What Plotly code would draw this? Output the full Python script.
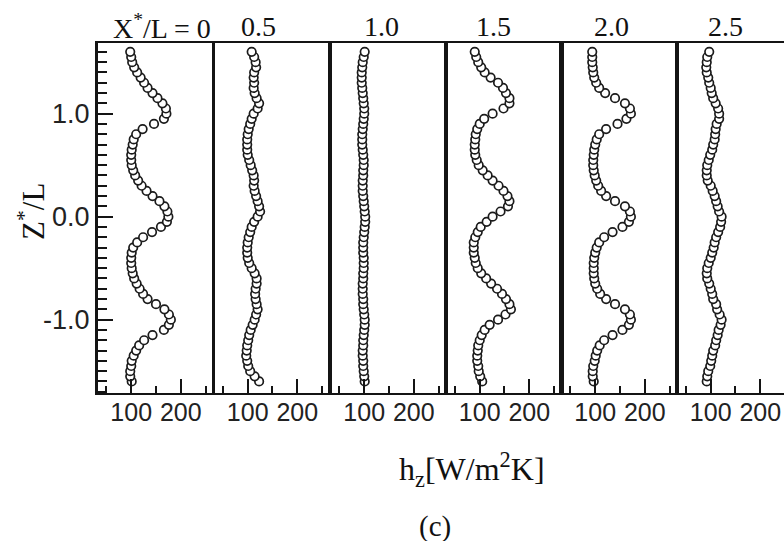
import plotly.graph_objects as go

# Vertical position Z*/L of each sample (same grid for all six stations)
z_over_L = [
    -1.60, -1.55, -1.50, -1.45, -1.40, -1.35, -1.30, -1.25, -1.20, -1.15, -1.10, -1.05, -1.00,
    -0.95, -0.90, -0.85, -0.80, -0.75, -0.70, -0.65, -0.60, -0.55, -0.50, -0.45, -0.40, -0.35,
    -0.30, -0.25, -0.20, -0.15, -0.10, -0.05, 0.00, 0.05, 0.10, 0.15, 0.20, 0.25, 0.30, 0.35,
    0.40, 0.45, 0.50, 0.55, 0.60, 0.65, 0.70, 0.75, 0.80, 0.85, 0.90, 0.95, 1.00, 1.05, 1.10,
    1.15, 1.20, 1.25, 1.30, 1.35, 1.40, 1.45, 1.50, 1.55, 1.60,
]

# Local heat transfer coefficient h_z [W/m^2K] at each streamwise station X*/L
h_x0_0 = [101, 98, 98, 100, 101, 105, 110, 116, 126, 143, 166, 176, 180,
          176, 167, 150, 133, 124, 117, 111, 106, 103, 101, 100, 100, 101, 104, 112, 124, 142, 160, 172,
          175,
          173, 167, 157, 143, 131, 121, 114, 108, 104, 101, 100, 100, 101, 103, 105, 110, 123, 146, 166,
          171, 170, 163, 153, 143, 133, 126, 119, 112, 106, 102, 100, 98]
h_x0_5 = [123, 114, 105, 101, 99, 97, 98, 99, 101, 103, 106, 110, 114,
          117, 120, 118, 116, 115, 116, 118, 118, 114, 108, 103, 100, 99, 99, 100, 102, 105, 108, 113,
          120,
          125, 123, 120, 117, 114, 112, 113, 112, 109, 106, 103, 100, 99, 99, 99, 100, 102, 105, 108,
          112, 120, 123, 118, 114, 112, 113, 112, 113, 117, 116, 113, 108]
h_x1_0 = [101, 100, 99, 98, 98, 97, 97, 98, 98, 99, 100, 101, 101,
          100, 99, 98, 98, 97, 97, 97, 98, 98, 99, 99, 99, 98, 98, 98, 99, 100, 101, 102,
          102,
          101, 100, 99, 98, 97, 97, 97, 98, 98, 99, 99, 98, 97, 96, 96, 96, 97, 98, 99,
          100, 100, 99, 98, 97, 96, 95, 95, 95, 96, 97, 99, 101]
h_x1_5 = [105, 101, 98, 97, 95, 95, 96, 97, 100, 104, 110, 120, 137,
          152, 163, 160, 153, 145, 135, 123, 113, 103, 96, 92, 90, 88, 88, 88, 91, 96, 102, 114,
          126,
          142, 157, 160, 156, 148, 138, 126, 116, 106, 98, 94, 91, 90, 90, 91, 92, 95, 100, 109,
          126, 148, 160, 160, 153, 147, 137, 122, 110, 103, 97, 93, 90]
h_x2_0 = [97, 95, 95, 96, 99, 101, 104, 109, 118, 135, 155, 168, 172,
          170, 160, 140, 122, 110, 104, 100, 98, 97, 97, 97, 98, 100, 103, 108, 118, 135, 155, 168,
          172,
          170, 160, 140, 122, 112, 106, 102, 99, 97, 96, 96, 97, 98, 100, 103, 108, 122, 145, 163,
          172, 170, 160, 140, 120, 108, 102, 98, 96, 95, 94, 94, 94]
h_x2_5 = [92, 93, 95, 99, 101, 103, 105, 109, 111, 114, 116, 120, 122,
          118, 113, 111, 105, 103, 100, 97, 93, 92, 93, 96, 100, 103, 106, 108, 111, 115, 119, 121,
          122,
          117, 114, 111, 108, 104, 100, 94, 92, 92, 93, 96, 99, 103, 105, 108, 109, 110, 112, 117,
          117, 115, 110, 105, 102, 100, 97, 95, 92, 91, 92, 93, 97]

station_labels = ["X<sup>*</sup>/L = 0", "0.5", "1.0", "1.5", "2.0", "2.5"]
major_h_ticks = [100, 200]
major_h_text = ["100", "200"]
minor_h_ticks = [50, 150, 250]
z_ticks = [-1.0, 0.0, 1.0]
z_tick_text = ["-1.0", "0.0", "1.0"]
minor_z_step = 0.1

profiles = [h_x0_0, h_x0_5, h_x1_0, h_x1_5, h_x2_0, h_x2_5]

# ---- page geometry (pixels) ----
W, H = 784, 541
ML, MT, MB, MR = 98, 43, 148, 0
PW = W - ML - MR
PH = H - MT - MB
panel_left = [98, 214.5, 331, 446.5, 562, 677.5]
panel_width = 114.0
h_lo, h_span = 33.0, 230.0          # h range covered by one full panel
label_center_px = [162, 258, 381, 493, 611, 725]

INK = "#141414"
SANS = "Liberation Sans, Arial, sans-serif"
SERIF = "Liberation Serif, Times New Roman, serif"


def px_x(px):
    return (px - ML) / PW


def px_y(py):
    return (MT + PH - py) / PH


fig = go.Figure()
layout_axes = {}
n = len(profiles)
for i, h in enumerate(profiles):
    k = "" if i == 0 else str(i + 1)
    left = panel_left[i]
    right = min(left + panel_width, W - MR)
    h_hi = h_lo + (right - left) * h_span / panel_width

    fig.add_trace(go.Scatter(
        x=h, y=z_over_L, mode="markers",
        xaxis="x" + k, yaxis="y" + k,
        marker=dict(symbol="circle", size=8.5, color="white",
                    line=dict(color="#1b1b1b", width=1.7)),
        showlegend=False,
    ))

    layout_axes["xaxis" + k] = dict(
        domain=[px_x(left), px_x(right)], range=[h_lo, h_hi], anchor="y" + k,
        showline=True, linecolor=INK, linewidth=2, mirror=True,
        showgrid=False, zeroline=False,
        tickvals=major_h_ticks, ticktext=major_h_text,
        ticks="inside", ticklen=14, tickwidth=2, tickcolor=INK,
        minor=dict(tickvals=minor_h_ticks, ticks="inside", ticklen=7,
                   tickwidth=2, tickcolor=INK),
        tickfont=dict(family=SANS, size=25, color="#222"),
        ticklabelstandoff=-4,
    )
    yax = dict(
        domain=[0, 1], range=[-1.712, 1.686], anchor="x" + k,
        showline=True, linecolor=INK, linewidth=3,
        mirror=(i < n - 1),
        showgrid=False, zeroline=False,
    )
    if i == 0:
        yax.update(
            tickvals=z_ticks, ticktext=z_tick_text,
            ticks="inside", ticklen=15, tickwidth=2, tickcolor=INK,
            minor=dict(dtick=minor_z_step, tick0=0, ticks="inside", ticklen=9,
                       tickwidth=2, tickcolor=INK),
            tickfont=dict(family=SANS, size=27, color="#222"),
        )
    else:
        yax.update(showticklabels=False)
    layout_axes["yaxis" + k] = yax

annotations = []
for i, label in enumerate(station_labels):
    annotations.append(dict(
        text=label, xref="paper", yref="paper",
        x=px_x(label_center_px[i]), y=px_y(27),
        xanchor="center", yanchor="middle", showarrow=False,
        font=dict(family=SERIF, size=28, color="#111"),
    ))
annotations += [
    dict(text="Z<sup>*</sup>/L", xref="paper", yref="paper",
         x=px_x(31), y=px_y(212), textangle=-90,
         xanchor="center", yanchor="middle", showarrow=False,
         font=dict(family=SERIF, size=31, color="#111")),
    dict(text="h<sub>z</sub>[W/m<sup>2</sup>K]", xref="paper", yref="paper",
         x=px_x(472), y=px_y(469),
         xanchor="center", yanchor="middle", showarrow=False,
         font=dict(family=SERIF, size=32, color="#111")),
    dict(text="(c)", xref="paper", yref="paper",
         x=px_x(435), y=px_y(526),
         xanchor="center", yanchor="middle", showarrow=False,
         font=dict(family=SERIF, size=29, color="#111")),
]

fig.update_layout(
    width=W, height=H,
    margin=dict(l=ML, r=MR, t=MT, b=MB, pad=0),
    paper_bgcolor="white", plot_bgcolor="white",
    annotations=annotations,
    **layout_axes,
)

fig.write_html("out.html")
